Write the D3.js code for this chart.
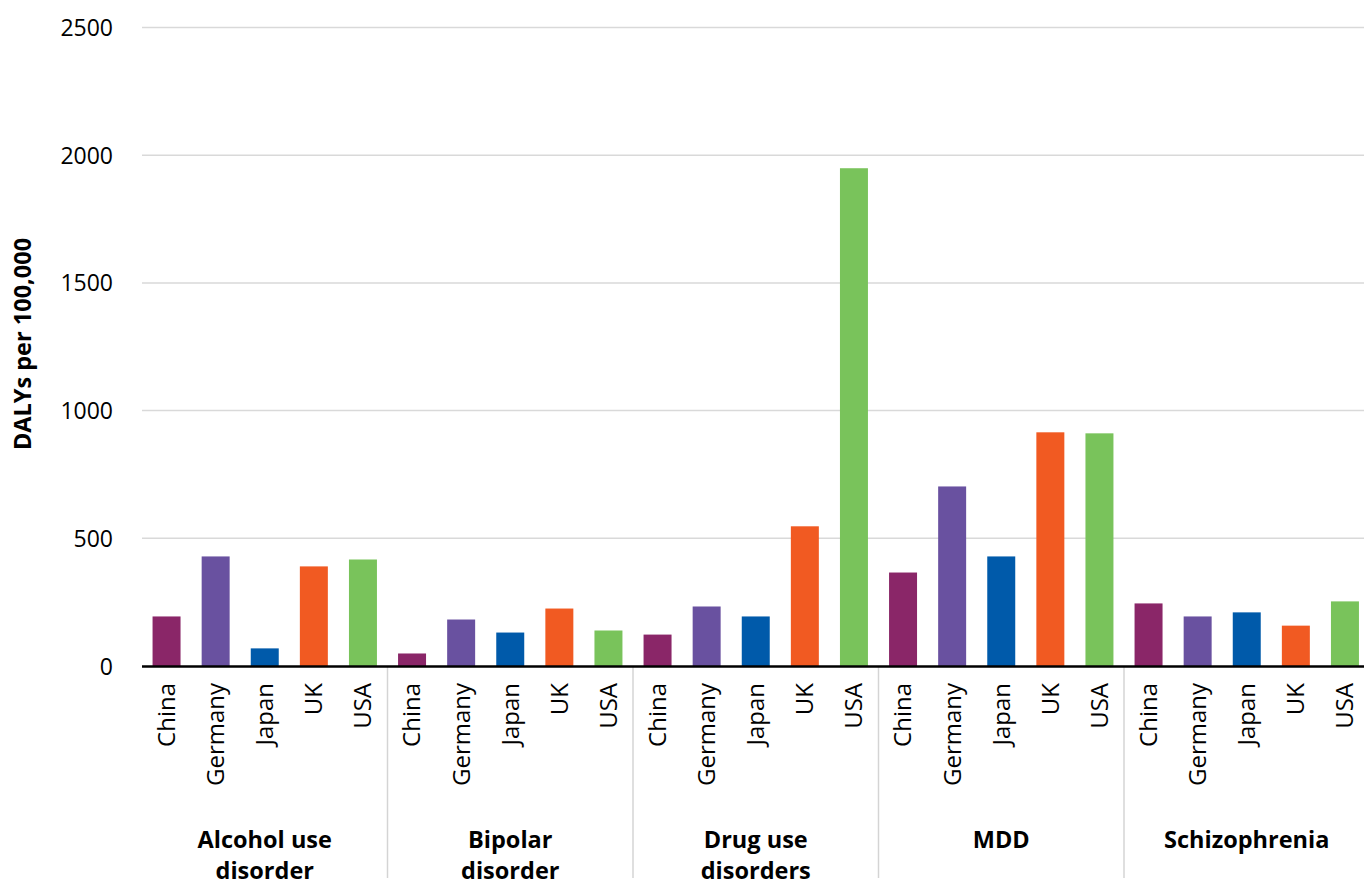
<!DOCTYPE html>
<html>
<head>
<meta charset="utf-8">
<script src="https://cdn.jsdelivr.net/npm/d3@7"></script>
<style>
  html, body { margin: 0; padding: 0; background: #fff; }
  svg { display: block; font-family: "Open Sans", "Noto Sans", sans-serif; }
</style>
</head>
<body>
<svg id="chart" width="1364" height="884"></svg>
<script>
// Disease groups (two-line labels) and countries within each group
const disorders = ["Alcohol use disorder", "Bipolar disorder", "Drug use disorders", "MDD", "Schizophrenia"];
const disorderLines = [["Alcohol use", "disorder"], ["Bipolar", "disorder"], ["Drug use", "disorders"], ["MDD"], ["Schizophrenia"]];
const countries = ["China", "Germany", "Japan", "UK", "USA"];

// DALYs per 100,000, one array per country, in disorder order
const china   = [194, 49, 123, 366, 245];
const germany = [429, 182, 233, 703, 194];
const japan   = [69, 131, 194, 429, 210];
const uk      = [390, 225, 547, 915, 158];
const usa     = [417, 139, 1949, 911, 253];

const yTicks = [0, 500, 1000, 1500, 2000, 2500];
const colors = ["#8a2668", "#6951a0", "#005aaa", "#f15a22", "#79c35b"];

const seriesByCountry = [china, germany, japan, uk, usa];
const rows = [];
disorders.forEach((d, i) => {
  countries.forEach((c, j) => {
    rows.push({ disorder: d, country: c, value: seriesByCountry[j][i] });
  });
});

const svg = d3.select("#chart");
const plotLeft = 142, plotRight = 1369.5, plotTop = 27.5, plotBase = 666;

const x0 = d3.scaleBand().domain(disorders).range([plotLeft, plotRight]).padding(0);
const x1 = d3.scaleBand().domain(countries).range([0, x0.bandwidth()])
  .paddingInner(0.43).paddingOuter(0.215);
const y = d3.scaleLinear().domain([0, 2500]).range([plotBase, plotTop]);
const color = d3.scaleOrdinal().domain(countries).range(colors);

// Horizontal gridlines
svg.append("g")
  .selectAll("line")
  .data(yTicks.filter(t => t > 0))
  .join("line")
  .attr("x1", plotLeft).attr("x2", 1364)
  .attr("y1", d => y(d)).attr("y2", d => y(d))
  .attr("stroke", "#d9d9d9").attr("stroke-width", 1.5);

// Y axis tick labels
const yAxis = d3.axisLeft(y).tickValues(yTicks).tickFormat(d3.format("d"))
  .tickSize(0).tickPadding(0);
const yg = svg.append("g").attr("transform", `translate(113,0)`).call(yAxis);
yg.select(".domain").remove();
yg.selectAll("text")
  .attr("font-size", 23).attr("fill", "#000")
  .attr("font-family", "'Open Sans', sans-serif")
  .attr("dy", "0.35em");

// Y axis title
svg.append("text")
  .attr("transform", `translate(31,344) rotate(-90)`)
  .attr("text-anchor", "middle")
  .attr("font-size", 23.5).attr("font-weight", "bold")
  .text("DALYs per 100,000");

// Bars
svg.append("g")
  .selectAll("rect")
  .data(rows)
  .join("rect")
  .attr("x", d => x0(d.disorder) + x1(d.country))
  .attr("width", x1.bandwidth())
  .attr("y", d => y(d.value))
  .attr("height", d => y(0) - y(d.value))
  .attr("fill", d => color(d.country));

// Group separators below the axis
svg.append("g")
  .selectAll("line")
  .data(disorders.slice(1))
  .join("line")
  .attr("x1", d => x0(d)).attr("x2", d => x0(d))
  .attr("y1", plotBase).attr("y2", 878)
  .attr("stroke", "#d4d4d4").attr("stroke-width", 1.5);

// Baseline
svg.append("line")
  .attr("x1", plotLeft).attr("x2", 1364)
  .attr("y1", plotBase + 0.5).attr("y2", plotBase + 0.5)
  .attr("stroke", "#000").attr("stroke-width", 2.5);

// Country labels (rotated)
svg.append("g")
  .selectAll("text")
  .data(rows)
  .join("text")
  .attr("transform", d => `translate(${x0(d.disorder) + x1(d.country) + x1.bandwidth() / 2},683) rotate(-90)`)
  .attr("text-anchor", "end")
  .attr("dy", "0.35em")
  .attr("font-size", 24)
  .text(d => d.country);

// Disorder group labels
const gl = svg.append("g")
  .selectAll("text")
  .data(disorders)
  .join("text")
  .attr("x", d => x0(d) + x0.bandwidth() / 2)
  .attr("y", 848)
  .attr("text-anchor", "middle")
  .attr("font-size", 23.5).attr("font-weight", "bold");
gl.selectAll("tspan")
  .data((d, i) => disorderLines[i])
  .join("tspan")
  .attr("x", function () { return d3.select(this.parentNode).attr("x"); })
  .attr("dy", (d, i) => i === 0 ? 0 : 31)
  .text(d => d);
</script>
</body>
</html>
